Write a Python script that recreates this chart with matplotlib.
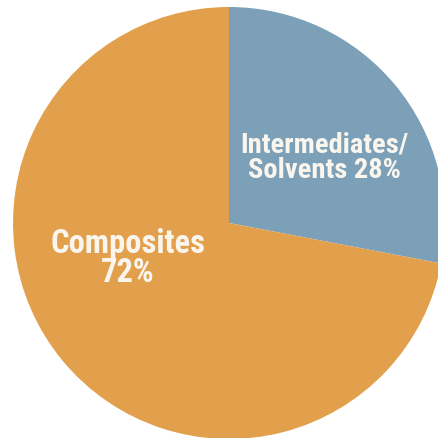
import matplotlib
matplotlib.use("Agg")
import matplotlib.pyplot as plt

labels = ["Intermediates/\nSolvents 28%", "Composites\n72%"]
values = [28, 72]
colors = ["#7BA0B7", "#E3A04C"]

W, H = 438, 439
fig = plt.figure(figsize=(W / 100, H / 100), dpi=100)
ax = fig.add_axes([0, 0, 1, 1])
cx, cy, r = 229, H - 224, 216
ax.pie(values, colors=colors, startangle=90, counterclock=False,
       center=(cx, cy), radius=r, frame=False,
       wedgeprops=dict(linewidth=0))
ax.set_xlim(0, W)
ax.set_ylim(0, H)
ax.set_aspect("equal")
ax.axis("off")

fam = ["Roboto Condensed", "Roboto", "DejaVu Sans"]
ax.text(324, H - 158, labels[0], ha="center", va="center", color="#FAF6EE",
        fontsize=20.5, fontweight="bold", family=fam, linespacing=0.92,
        fontstretch="condensed")
ax.text(128, H - 259, labels[1], ha="center", va="center", color="#FAF6EE",
        fontsize=23.5, fontweight="bold", family=fam, linespacing=0.88,
        fontstretch="condensed")

fig.savefig("out.png", dpi=100)
